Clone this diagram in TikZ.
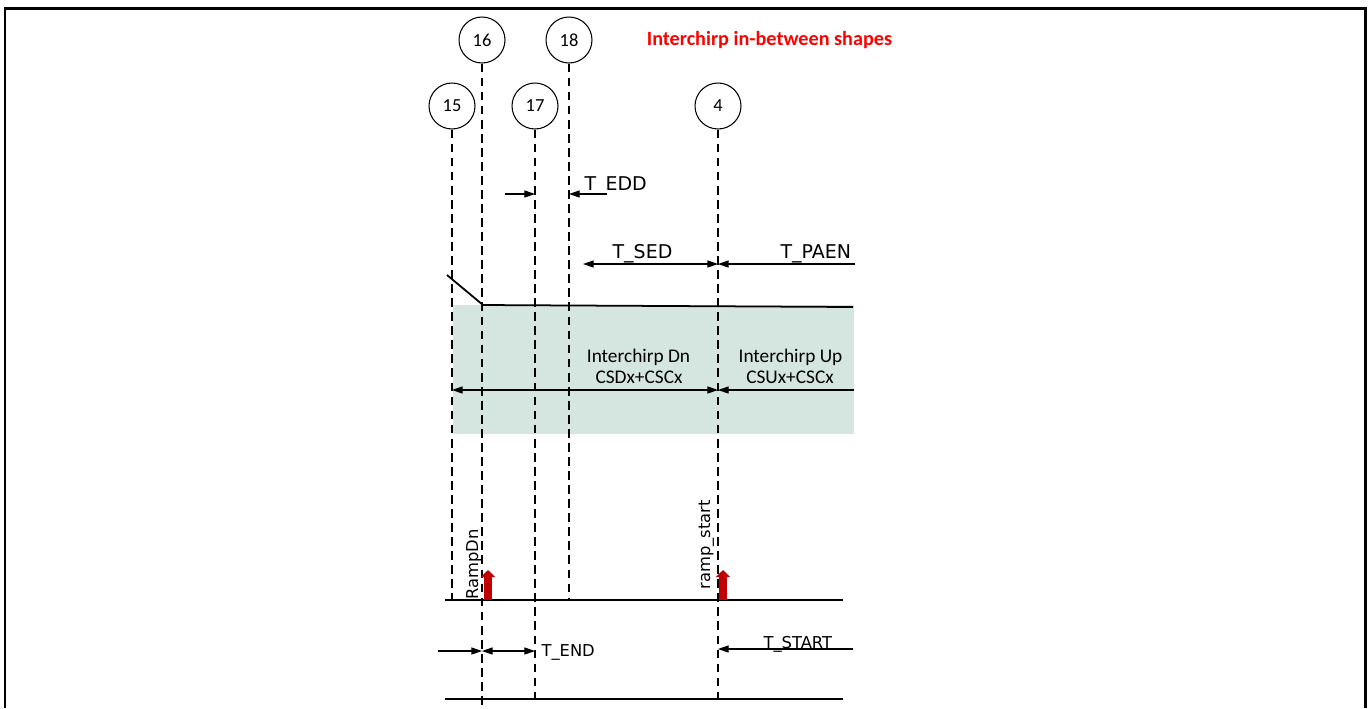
\documentclass[tikz,border=0pt]{standalone}
\usepackage{fontspec}
\setmainfont{Carlito}
\newfontfamily\lblfont{DejaVu Sans}
\usepackage{xcolor}
\usetikzlibrary{arrows.meta}
\definecolor{shadeColor}{HTML}{D5E5E0}
\definecolor{rampRed}{HTML}{C00000}
\definecolor{titleRed}{HTML}{FF0000}
\tikzset{
  marker/.style={draw, circle, line width=0.6pt, minimum size=0.92cm, inner sep=0pt, font=\fontsize{10.5}{12}\selectfont},
  tline/.style={line width=0.6pt, dash pattern=on 5pt off 3pt},
  sig/.style={line width=1pt},
  tlabel/.style={inner sep=0pt, font=\lblfont\fontsize{10.8}{12}\selectfont},
  blabel/.style={inner sep=0pt, font=\lblfont\fontsize{9.3}{11}\selectfont},
  rlabel/.style={inner sep=0pt, rotate=90, anchor=base west, font=\lblfont\fontsize{9.3}{11}\selectfont},
  zlabel/.style={inner sep=0pt, anchor=base, font=\fontsize{11}{12}\selectfont},
  ramparrow/.style={rampRed, line width=4.5pt, -{Triangle[length=4pt,width=8pt]}}
}
\begin{document}
\begin{tikzpicture}[x=0.02cm, y=-0.02cm, >={Triangle[length=6pt,width=4pt]}, line width=0.6pt]
    \useasboundingbox (0,0) rectangle (1368,708);
    \draw[line width=1.7pt] (5,708) -- (5,8) -- (1365,8) -- (1365,708);
    \fill[shadeColor] (453,305) rectangle (854,434);
    \node[inner sep=0pt, anchor=base, text=titleRed, font=\bfseries\fontsize{11.5}{12}\selectfont] (title) at (769.5,45) {Interchirp in-between shapes};

    % markers and their time lines
    \node[marker] (c16) at (482,40) {16};
    \node[marker] (c18) at (569,40) {18};
    \node[marker] (c15) at (452,106) {15};
    \node[marker] (c17) at (535,106) {17};
    \node[marker] (c4) at (718,106) {4};
    \coordinate (e15) at (452,600);
    \coordinate (e16) at (482,708);
    \coordinate (e17) at (535,699);
    \coordinate (e18) at (569,600);
    \coordinate (e4) at (718,699);
    \foreach \m in {15,16,17,18,4}
        \draw[tline] (c\m) -- (e\m);

    % T_EDD
    \coordinate (edd0) at (505,194);
    \coordinate (edd1) at (535,194);
    \coordinate (edd2) at (607,194);
    \coordinate (edd3) at (569,194);
    \draw[->] (edd0) -- (edd1);
    \draw[->] (edd2) -- (edd3);
    \node[tlabel, anchor=base west] (tedd) at (584,190) {T\_EDD};

    % T_SED / T_PAEN
    \coordinate (sed0) at (583,264);
    \coordinate (sed1) at (718,264);
    \coordinate (paen0) at (855,264);
    \draw[<->] (sed0) -- (sed1);
    \draw[->] (paen0) -- (sed1);
    \node[tlabel, anchor=base] (tsed) at (642.5,258) {T\_SED};
    \node[tlabel, anchor=base west] (tpaen) at (780,258) {T\_PAEN};

    % frequency shape
    \coordinate (f0) at (447,275);
    \coordinate (f1) at (483,305);
    \coordinate (f2) at (853,307);
    \draw[sig] (f0) -- (f1) -- (f2);

    % interchirp segments
    \coordinate (ic0) at (452,390);
    \coordinate (ic1) at (718,390);
    \coordinate (ic2) at (854,390);
    \draw[<->] (ic0) -- (ic1);
    \draw[->] (ic2) -- (ic1);
    \node[zlabel] (dn1) at (638.5,362) {Interchirp Dn};
    \node[zlabel] (dn2) at (639,383) {CSDx+CSCx};
    \node[zlabel] (up1) at (790.5,362) {Interchirp Up};
    \node[zlabel] (up2) at (790,383) {CSUx+CSCx};

    % ramp triggers
    \coordinate (base0) at (445,600);
    \coordinate (base1) at (843,600);
    \draw[sig] (base0) -- (base1);
    \coordinate (rd0) at (488,600);
    \coordinate (rd1) at (488,570);
    \coordinate (rs0) at (723,600);
    \coordinate (rs1) at (723,570);
    \draw[ramparrow] (rd0) -- (rd1);
    \draw[ramparrow] (rs0) -- (rs1);
    \node[rlabel] (rampdn) at (478,600) {RampDn};
    \node[rlabel] (rampst) at (710,590) {ramp\_start};

    % T_END / T_START
    \coordinate (end0) at (438,651);
    \coordinate (end1) at (482,651);
    \coordinate (end2) at (535,651);
    \coordinate (st0) at (853,649);
    \coordinate (st1) at (718,649);
    \draw[->] (end0) -- (end1);
    \draw[<->] (end1) -- (end2);
    \draw[->] (st0) -- (st1);
    \node[blabel, anchor=base west] (tend) at (541,656) {T\_END};
    \node[blabel, anchor=base west] (tstart) at (763,648) {T\_START};
    \coordinate (bot0) at (445,699);
    \coordinate (bot1) at (843,699);
    \draw[sig] (bot0) -- (bot1);
\end{tikzpicture}
\end{document}
